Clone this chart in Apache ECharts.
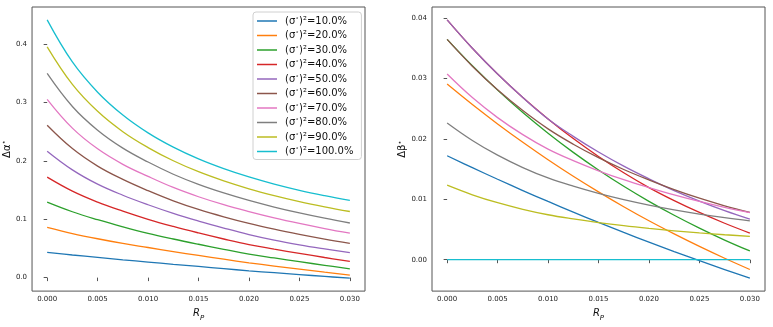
<!DOCTYPE html>
<html>
<head>
<meta charset="utf-8">
<script src="https://cdn.jsdelivr.net/npm/echarts@6/dist/echarts.min.js"></script>
<style>
  html, body { margin: 0; padding: 0; background: #fff; }
  #chart { width: 773px; height: 327px; }
</style>
</head>
<body>
<div id="chart"></div>
<script>
// R_P sample points
const xs = [0, 0.0025, 0.005, 0.0075, 0.01, 0.0125, 0.015, 0.0175, 0.02, 0.0225, 0.025, 0.0275, 0.03];

// (sigma*)^2 levels, one line per level
const levels = ['10.0%', '20.0%', '30.0%', '40.0%', '50.0%', '60.0%', '70.0%', '80.0%', '90.0%', '100.0%'];
const colors = ['#1f77b4', '#ff7f0e', '#2ca02c', '#d62728', '#9467bd', '#8c564b', '#e377c2', '#7f7f7f', '#bcbd22', '#17becf'];

// left panel: Δα*
const alpha10 = [0.0433, 0.0388, 0.0346, 0.0305, 0.0266, 0.0228, 0.0191, 0.0154, 0.0117, 0.0084, 0.0052, 0.0021, -0.001];
const alpha20 = [0.0861, 0.0756, 0.0666, 0.0586, 0.0516, 0.0446, 0.0380, 0.0316, 0.0254, 0.0198, 0.0145, 0.0093, 0.0044];
const alpha30 = [0.1294, 0.1129, 0.0993, 0.0871, 0.0759, 0.0662, 0.0572, 0.0486, 0.0404, 0.0337, 0.0273, 0.0211, 0.0150];
const alpha40 = [0.1722, 0.1482, 0.1294, 0.1139, 0.0999, 0.0877, 0.0766, 0.0662, 0.0566, 0.0488, 0.0415, 0.0345, 0.0278];
const alpha50 = [0.2167, 0.1847, 0.1602, 0.1412, 0.1249, 0.1101, 0.0970, 0.0850, 0.0738, 0.0643, 0.0563, 0.0493, 0.0428];
const alpha60 = [0.2611, 0.2211, 0.1911, 0.1683, 0.1490, 0.1316, 0.1168, 0.1041, 0.0928, 0.0830, 0.0742, 0.0661, 0.0588];
const alpha70 = [0.3056, 0.2562, 0.2207, 0.1942, 0.1735, 0.1545, 0.1386, 0.1250, 0.1132, 0.1024, 0.0928, 0.0841, 0.0761];
const alpha80 = [0.3500, 0.2933, 0.2526, 0.2219, 0.1981, 0.1772, 0.1598, 0.1451, 0.1323, 0.1210, 0.1109, 0.1018, 0.0936];
const alpha90 = [0.3956, 0.3312, 0.2850, 0.2501, 0.2229, 0.2003, 0.1815, 0.1658, 0.1523, 0.1407, 0.1304, 0.1214, 0.1133];
const alpha100 = [0.4417, 0.3696, 0.3178, 0.2787, 0.2481, 0.2236, 0.2035, 0.1868, 0.1725, 0.1603, 0.1497, 0.1405, 0.1322];

// right panel: Δβ*
const beta10 = [0.01723, 0.01525, 0.01333, 0.01146, 0.00965, 0.00789, 0.00618, 0.00452, 0.00291, 0.00135, -0.00016, -0.00163, -0.00306];
const beta20 = [0.0291, 0.02571, 0.0225, 0.01946, 0.01657, 0.01383, 0.01124, 0.00878, 0.00645, 0.00427, 0.0022, 0.00024, -0.00162];
const beta30 = [0.0365, 0.03213, 0.0281, 0.02438, 0.02095, 0.01778, 0.01486, 0.01216, 0.00967, 0.00736, 0.00523, 0.00326, 0.00145];
const beta40 = [0.03973, 0.03503, 0.03076, 0.02687, 0.02333, 0.02007, 0.0171, 0.0144, 0.01195, 0.00979, 0.00783, 0.00604, 0.00441];
const beta50 = [0.03973, 0.03503, 0.03076, 0.02687, 0.02333, 0.02044, 0.01784, 0.0155, 0.0134, 0.01145, 0.0097, 0.00812, 0.00671];
const beta60 = [0.0365, 0.03206, 0.02815, 0.02471, 0.02168, 0.01914, 0.01691, 0.01495, 0.01322, 0.01161, 0.01019, 0.00894, 0.00784];
const beta70 = [0.03076, 0.02686, 0.02354, 0.02072, 0.01832, 0.01641, 0.01473, 0.01325, 0.01195, 0.01074, 0.00965, 0.00867, 0.00779];
const beta80 = [0.02266, 0.01976, 0.01732, 0.01527, 0.01355, 0.01218, 0.01099, 0.00995, 0.00905, 0.00826, 0.00757, 0.00697, 0.00645];
const beta90 = [0.01235, 0.01076, 0.00944, 0.00835, 0.00745, 0.00676, 0.00616, 0.00564, 0.00519, 0.00479, 0.00444, 0.00414, 0.00387];
const beta100 = [0, 0, 0, 0, 0, 0, 0, 0, 0, 0, 0, 0, 0];

// tick labels
const xTicks = [0, 0.005, 0.01, 0.015, 0.02, 0.025, 0.03];
const alphaTicks = [0, 0.1, 0.2, 0.3, 0.4];
const betaTicks = [0, 0.01, 0.02, 0.03, 0.04];

const alphaSeries = [alpha10, alpha20, alpha30, alpha40, alpha50, alpha60, alpha70, alpha80, alpha90, alpha100];
const betaSeries = [beta10, beta20, beta30, beta40, beta50, beta60, beta70, beta80, beta90, beta100];

const FONT = 'DejaVu Sans';
const frame = '#555';

function xAxisCfg(gridIndex) {
  return {
    type: 'value',
    gridIndex: gridIndex,
    min: -0.0015,
    max: 0.0315,
    name: '{i|R}{s|P}',
    nameLocation: 'middle',
    nameGap: 13,
    nameTextStyle: {
      rich: {
        i: { fontFamily: FONT, fontStyle: 'italic', fontSize: 10, color: '#111', verticalAlign: 'top', lineHeight: 14 },
        s: { fontFamily: FONT, fontStyle: 'italic', fontSize: 7, color: '#111', verticalAlign: 'bottom', lineHeight: 14 }
      }
    },
    axisLine: { show: false },
    splitLine: { show: false },
    axisTick: { show: true, inside: false, length: 3.5, lineStyle: { color: frame }, customValues: xTicks },
    axisLabel: {
      fontFamily: FONT, fontSize: 7, color: '#222', margin: 5,
      customValues: xTicks,
      formatter: v => v.toFixed(3)
    }
  };
}

function yAxisCfg(gridIndex, min, max, ticks, digits, name, gap) {
  return {
    type: 'value',
    gridIndex: gridIndex,
    min: min,
    max: max,
    name: name,
    nameLocation: 'middle',
    nameGap: gap,
    nameTextStyle: {
      rich: {
        g: { fontFamily: FONT, fontSize: 10, color: '#111' },
        s: { fontFamily: FONT, fontSize: 7, color: '#111', verticalAlign: 'top', lineHeight: 12 }
      }
    },
    axisLine: { show: false },
    splitLine: { show: false },
    axisTick: { show: true, inside: false, length: 3.5, lineStyle: { color: frame }, customValues: ticks },
    axisLabel: {
      fontFamily: FONT, fontSize: 7, color: '#222', margin: 5,
      customValues: ticks,
      formatter: v => v.toFixed(digits)
    }
  };
}

const series = [];
levels.forEach((lv, k) => {
  series.push({
    name: lv, type: 'line', xAxisIndex: 0, yAxisIndex: 0,
    data: xs.map((x, i) => [x, alphaSeries[k][i]]),
    symbol: 'none', showSymbol: false, smooth: 0.4,
    lineStyle: { width: 1.3, color: colors[k] }, itemStyle: { color: colors[k] }
  });
});
levels.forEach((lv, k) => {
  series.push({
    name: lv, type: 'line', xAxisIndex: 1, yAxisIndex: 1,
    data: xs.map((x, i) => [x, betaSeries[k][i]]),
    symbol: 'none', showSymbol: false, smooth: 0.4,
    lineStyle: { width: 1.3, color: colors[k] }, itemStyle: { color: colors[k] }
  });
});

const chart = echarts.init(document.getElementById('chart'), null, { renderer: 'canvas' });
chart.setOption({
  animation: false,
  backgroundColor: '#fff',
  grid: [
    { left: 32, top: 7, width: 333, height: 292, show: true, borderColor: frame, borderWidth: 1, backgroundColor: 'transparent' },
    { left: 432, top: 7, width: 333, height: 292, show: true, borderColor: frame, borderWidth: 1, backgroundColor: 'transparent' }
  ],
  xAxis: [xAxisCfg(0), xAxisCfg(1)],
  yAxis: [
    yAxisCfg(0, -0.0231, 0.4638, alphaTicks, 1, '{g|Δα}{s|⋆}', 14),
    yAxisCfg(1, -0.0052, 0.04187, betaTicks, 2, '{g|Δβ}{s|⋆}', 21)
  ],
  legend: {
    orient: 'vertical',
    left: 253,
    top: 12,
    padding: [3, 8, 3, 4],
    icon: 'rect',
    itemWidth: 20,
    itemHeight: 1.5,
    itemGap: 3.5,
    backgroundColor: 'rgba(255,255,255,0.8)',
    borderColor: '#d0d0d0',
    borderWidth: 1,
    borderRadius: 3,
    data: levels,
    formatter: name => '{t|(σ}{s|⋆}{t|)²=' + name + '}',
    textStyle: {
      padding: [0, 0, 0, 3],
      rich: {
        t: { fontFamily: FONT, fontSize: 10, color: '#111', lineHeight: 12 },
        s: { fontFamily: FONT, fontSize: 6, color: '#111', verticalAlign: 'top', lineHeight: 12 }
      }
    }
  },
  series: series
});
</script>
</body>
</html>
